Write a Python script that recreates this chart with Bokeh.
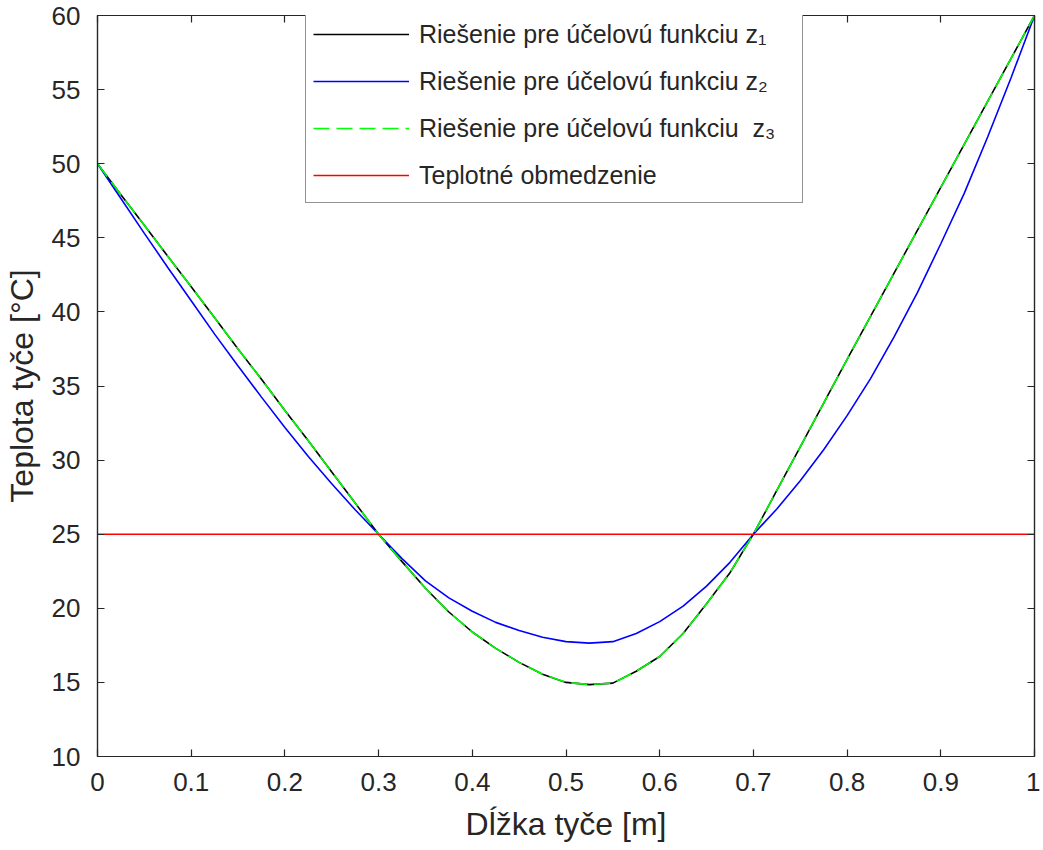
from bokeh.plotting import figure
from bokeh.models import (Range1d, FixedTicker, LinearAxis, Legend, LegendItem)
from bokeh.embed import file_html
from bokeh.resources import INLINE

# ---- data ----
x_pos = [0.000, 0.025, 0.050, 0.075, 0.100, 0.125, 0.150, 0.175, 0.200, 0.225,
         0.250, 0.275, 0.300, 0.325, 0.350, 0.375, 0.400, 0.425, 0.450, 0.475,
         0.500, 0.525, 0.550, 0.575, 0.600, 0.625, 0.650, 0.675, 0.700, 0.725,
         0.750, 0.775, 0.800, 0.825, 0.850, 0.875, 0.900, 0.925, 0.950, 0.975,
         1.000]
z1_temp = [50.0, 47.9, 45.85, 43.75, 41.7, 39.6, 37.5, 35.45, 33.35, 31.3,
           29.2, 27.1, 25.0, 23.15, 21.35, 19.75, 18.4, 17.3, 16.35, 15.55,
           15.0, 14.85, 14.95, 15.75, 16.75, 18.3, 20.3, 22.4, 25.0, 27.95,
           30.9, 33.85, 36.8, 39.7, 42.6, 45.5, 48.4, 51.3, 54.2, 57.1,
           60.0]
z2_temp = [50.0, 47.65, 45.3, 43.0, 40.75, 38.5, 36.35, 34.25, 32.2, 30.25,
           28.4, 26.65, 25.0, 23.35, 21.85, 20.7, 19.8, 19.05, 18.5, 18.05,
           17.75, 17.65, 17.75, 18.3, 19.1, 20.15, 21.5, 23.1, 25.0, 26.7,
           28.6, 30.7, 33.0, 35.5, 38.3, 41.3, 44.6, 48.0, 51.8, 55.8,
           60.0]
z3_temp = [50.0, 47.9, 45.85, 43.75, 41.7, 39.6, 37.5, 35.45, 33.35, 31.3,
           29.2, 27.1, 25.0, 23.15, 21.35, 19.75, 18.4, 17.3, 16.35, 15.55,
           15.0, 14.85, 14.95, 15.75, 16.75, 18.3, 20.3, 22.4, 25.0, 27.95,
           30.9, 33.85, 36.8, 39.7, 42.6, 45.5, 48.4, 51.3, 54.2, 57.1,
           60.0]
limit_x = [0.0, 1.0]
limit_temp = [25.0, 25.0]

series_labels = ["Riešenie pre účelovú funkciu z₁",
                 "Riešenie pre účelovú funkciu z₂",
                 "Riešenie pre účelovú funkciu\u00a0 z₃",
                 "Teplotné obmedzenie"]

x_ticks = [0, 0.1, 0.2, 0.3, 0.4, 0.5, 0.6, 0.7, 0.8, 0.9, 1]
x_tick_labels = ["0", "0.1", "0.2", "0.3", "0.4", "0.5", "0.6", "0.7", "0.8", "0.9", "1"]
y_ticks = [10, 15, 20, 25, 30, 35, 40, 45, 50, 55, 60]

x_title = "Dĺžka tyče [m]"
y_title = "Teplota tyče [°C]"

AX = "#262626"
FONT = "Liberation Sans"

p = figure(width=1040, height=850, output_backend="svg", toolbar_location=None,
           x_range=Range1d(0, 1), y_range=Range1d(10, 60),
           min_border_left=97, min_border_right=6, min_border_top=15,
           min_border_bottom=94, x_axis_type=None, y_axis_type=None)
p.background_fill_color = "white"
p.border_fill_color = "white"
p.outline_line_color = AX
p.outline_line_width = 1.2
p.grid.visible = False


def style_axis(ax, ticks, labels=None, show=True):
    ax.ticker = FixedTicker(ticks=ticks)
    ax.axis_line_color = AX
    ax.axis_line_width = 1.2
    ax.major_tick_line_color = AX
    ax.major_tick_line_width = 1.2
    ax.major_tick_in = 7
    ax.major_tick_out = 0
    ax.minor_tick_line_color = None
    ax.major_label_text_font = FONT
    ax.major_label_text_font_size = "26px"
    ax.major_label_text_color = AX
    if labels is not None:
        ax.major_label_overrides = {t: l for t, l in zip(ticks, labels)}
    if not show:
        ax.major_label_overrides = {t: "" for t in ticks}
        ax.major_label_standoff = 0


xb = LinearAxis(axis_label=x_title)
style_axis(xb, x_ticks, x_tick_labels)
xb.major_label_standoff = 16
xb.axis_label_standoff = 12
xb.axis_label_text_font = FONT
xb.axis_label_text_font_size = "32px"
xb.axis_label_text_font_style = "normal"
xb.axis_label_text_color = AX
p.add_layout(xb, "below")

yl = LinearAxis(axis_label=y_title)
style_axis(yl, y_ticks)
yl.major_label_standoff = 17
yl.axis_label_standoff = 9
yl.axis_label_text_font = FONT
yl.axis_label_text_font_size = "32px"
yl.axis_label_text_font_style = "normal"
yl.axis_label_text_color = AX
p.add_layout(yl, "left")

xt = LinearAxis()
style_axis(xt, x_ticks, show=False)
p.add_layout(xt, "above")
yr = LinearAxis()
style_axis(yr, y_ticks, show=False)
p.add_layout(yr, "right")

r1 = p.line(x_pos, z1_temp, line_color="black", line_width=1.6)
r2 = p.line(x_pos, z2_temp, line_color="#0000FF", line_width=1.6)
r3 = p.line(x_pos, z3_temp, line_color="#00FF00", line_width=1.6, line_dash="16 7")
r4 = p.line(limit_x, limit_temp, line_color="#FF0000", line_width=1.6)

legend = Legend(items=[LegendItem(label=series_labels[0], renderers=[r1]),
                       LegendItem(label=series_labels[1], renderers=[r2]),
                       LegendItem(label=series_labels[2], renderers=[r3]),
                       LegendItem(label=series_labels[3], renderers=[r4])],
                location=(208, 553))
legend.label_text_font = FONT
legend.label_text_font_size = "25px"
legend.label_text_color = AX
legend.border_line_color = AX
legend.border_line_width = 1.2
legend.background_fill_color = "white"
legend.background_fill_alpha = 1.0
legend.padding = 7
legend.spacing = 7
legend.label_height = 40
legend.glyph_height = 40
legend.glyph_width = 96
legend.label_standoff = 10
legend.label_width = 376
legend.margin = 0
p.add_layout(legend, "center")

open("out.html", "w").write(file_html(p, INLINE))
